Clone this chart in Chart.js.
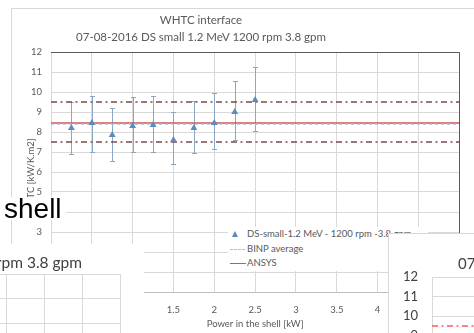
<!DOCTYPE html>
<html>
<head>
<meta charset="utf-8">
<script src="https://cdn.jsdelivr.net/npm/chart.js@4.4.1/dist/chart.umd.min.js"></script>
<style>
  html, body { margin: 0; padding: 0; background: #fff; }
  body { width: 474px; height: 333px; position: relative; overflow: hidden; font-family: Lato, "Open Sans", sans-serif; }
  .abs { position: absolute; }
  #frame { left: 11px; top: 8px; width: 600px; height: 500px; border: 1px solid #d9d9d9; }
  .ttl { color: #595959; font-size: 11.5px; white-space: nowrap; text-align: center; width: 300px; line-height: 14px; }
  #legend { left: 228px; top: 227px; width: 200px; height: 44px; background: #fff; font-size: 9.5px; color: #595959; }
  #legend .row { position: absolute; left: 0; height: 14px; line-height: 14px; width: 200px; white-space: nowrap; }
  #legend .txt { position: absolute; left: 19px; top: 0; }
  #shell { left: 0; top: 197px; width: 66px; height: 23px; line-height: 23px; background: #fff; font-family: "Liberation Sans", Arial, sans-serif; font-size: 28px; color: #000; padding-left: 4px; box-sizing: border-box; }
  #f2 { left: 0; top: 244px; width: 144px; height: 89px; background: #fff; overflow: hidden; }
  #f3 { left: 388px; top: 233px; width: 90px; height: 100px; background: #fff; overflow: hidden; border-left: 1px solid #d9d9d9; border-top: 1px solid #d9d9d9; }
  .ftitle { position: absolute; white-space: nowrap; color: #404040; }
</style>
</head>
<body>
<div id="frame" class="abs"></div>
<canvas id="main" class="abs" width="474" height="333" style="left:0;top:0;"></canvas>
<div class="abs ttl" style="left:51px;top:13px;">WHTC interface</div>
<div class="abs ttl" style="left:51px;top:30px;">07-08-2016 DS small 1.2 MeV 1200 rpm 3.8 gpm</div>
<div id="legend" class="abs"></div>
<div id="shell" class="abs">shell</div>
<div id="f2" class="abs">
  <canvas id="c2" class="abs" width="410" height="320" style="left:-280px;top:10px;"></canvas>
  <div class="ftitle" style="right:62px;top:9px;font-size:15.5px;line-height:18px;">07-08-2016 DS small 1.2 MeV 1200 rpm 3.8 gpm</div>
</div>
<div id="f3" class="abs">
  <canvas id="c3" class="abs" width="1000" height="300" style="left:0;top:0;"></canvas>
  <div class="ftitle" style="left:69px;top:20px;font-size:15px;line-height:18px;">07-08-2016 DS small 1.2 MeV 1200 rpm 3.8 gpm</div>
</div>
<script>
// measured series (power in the shell, kW) and HTC values with error limits
var powerKW = [0.25, 0.5, 0.75, 1, 1.25, 1.5, 1.75, 2, 2.25, 2.5];
var htc     = [8.2, 8.45, 7.85, 8.3, 8.35, 7.6, 8.2, 8.45, 9.0, 9.6];
var htcHigh = [9.5, 9.8, 9.2, 9.75, 9.8, 9.0, 9.55, 9.95, 10.55, 11.25];
var htcLow  = [6.9, 7.0, 6.55, 7.0, 7.0, 6.4, 6.95, 7.15, 7.6, 8.05];

// reference lines
var refSpan = [0, 5];
var ansysHtc = 8.45;
var binpAverage = 8.4;
var binpBand = [9.5, 7.5];

var seriesNames = ['DS-small-1.2 MeV - 1200 rpm -3.8 gpm', 'BINP average', 'ANSYS'];
var xRange = [0, 5], xStep = 0.5;
var yRange = [0, 12], yStep = 1;

var pointColor = '#5b8cc0';
var errColor = '#8ba7c6';
var binpColor = '#9dc3e6';
var ansysColor = '#cc5555';

// error bars, drawn through the chart's own scales
var errorBars = {
    id: 'errorBars',
    beforeDatasetsDraw: function (chart) {
        var ctx = chart.ctx, x = chart.scales.x, y = chart.scales.y, a = chart.chartArea;
        ctx.save();
        ctx.beginPath();
        ctx.rect(a.left, a.top, a.right - a.left, a.bottom - a.top);
        ctx.clip();
        ctx.strokeStyle = errColor;
        ctx.lineWidth = 1;
        powerKW.forEach(function (p, i) {
            var px = Math.round(x.getPixelForValue(p)) + 0.5;
            var top = Math.round(y.getPixelForValue(htcHigh[i])) + 0.5;
            var bot = Math.round(y.getPixelForValue(htcLow[i])) + 0.5;
            ctx.beginPath();
            ctx.moveTo(px, top); ctx.lineTo(px, bot);
            ctx.moveTo(px - 2.5, top); ctx.lineTo(px + 2.5, top);
            ctx.moveTo(px - 2.5, bot); ctx.lineTo(px + 2.5, bot);
            ctx.stroke();
        });
        ctx.restore();
    }
};

// top/right border of the plot area
var plotFrame = {
    id: 'plotFrame',
    afterDatasetsDraw: function (chart, args, opts) {
        var ctx = chart.ctx, a = chart.chartArea;
        ctx.save();
        ctx.strokeStyle = opts.color || '#595959';
        ctx.lineWidth = 1;
        ctx.beginPath();
        ctx.moveTo(a.left, Math.round(a.top) + 0.5);
        ctx.lineTo(Math.round(a.right) + 0.5, Math.round(a.top) + 0.5);
        ctx.lineTo(Math.round(a.right) + 0.5, a.bottom);
        ctx.stroke();
        ctx.restore();
    }
};

function buildChart(canvasId, o) {
    var flat = function (v) { return refSpan.map(function (x) { return { x: x, y: v }; }); };
    var datasets = [
        {
            label: seriesNames[0],
            data: powerKW.map(function (p, i) { return { x: p, y: htc[i] }; }),
            pointStyle: 'triangle',
            pointRadius: o.pointRadius,
            backgroundColor: pointColor,
            borderColor: pointColor,
            borderWidth: 0,
            showLine: false
        },
        {
            label: seriesNames[1], data: flat(binpAverage), showLine: true,
            borderColor: binpColor, borderDash: [3, 3], borderWidth: 1.25, pointRadius: 0
        },
        {
            label: seriesNames[2], data: flat(ansysHtc), showLine: true,
            borderColor: ansysColor, borderWidth: 1.5, pointRadius: 0
        }
    ];
    binpBand.forEach(function (v) {
        datasets.push({
            label: '', data: flat(v), showLine: true,
            borderColor: o.bandColor, borderDash: [6, 3.5, 2, 3.5], borderWidth: 1.3, pointRadius: 0
        });
    });

    var tickFont = { family: 'Lato', size: o.tickSize };
    var config = {
        type: 'scatter',
        data: { datasets: datasets },
        options: {
            responsive: false,
            animation: false,
            events: [],
            layout: { padding: o.pad },
            plugins: {
                legend: { display: false },
                title: { display: false },
                tooltip: { enabled: false },
                plotFrame: { color: o.frameColor }
            },
            scales: {
                x: {
                    type: 'linear', min: xRange[0], max: xRange[1],
                    ticks: {
                        display: o.xTicks, stepSize: xStep, autoSkip: false, maxRotation: 0,
                        color: '#595959', font: tickFont, padding: 12,
                        callback: function (v) { return String(v); }
                    },
                    grid: { color: '#d9d9d9', drawTicks: false },
                    border: { color: o.xBorder },
                    title: {
                        display: !!o.xTitle, text: o.xTitle, color: '#595959',
                        font: tickFont, padding: { top: 2, bottom: 3 }
                    },
                    afterFit: function (s) { s.height = o.xHeight; }
                },
                y: {
                    min: yRange[0], max: yRange[1],
                    ticks: {
                        display: o.yTicks, stepSize: yStep, color: o.yTickColor,
                        font: { family: 'Lato', size: o.yTickSize }, padding: o.yTickPad
                    },
                    grid: { color: '#d9d9d9', drawTicks: false },
                    border: { color: '#d9d9d9' },
                    title: {
                        display: !!o.yTitle, text: o.yTitle, color: '#595959',
                        font: tickFont, padding: { top: 5, bottom: 2 }
                    },
                    afterFit: function (s) { s.width = o.yWidth; }
                }
            }
        },
        plugins: [errorBars, plotFrame]
    };
    return new Chart(document.getElementById(canvasId), config);
}

// main chart
buildChart('main', {
    pad: { left: 20, right: 5, top: 52, bottom: 0 },
    yWidth: 31, xHeight: 41, xTicks: true, yTicks: true,
    tickSize: 9.5, yTickSize: 9.5, yTickPad: 9, yTickColor: '#595959',
    xTitle: 'Power in the shell [kW]', yTitle: 'HTC [kW/K.m2]',
    xBorder: '#bfbfbf', frameColor: '#595959', bandColor: '#7a4a4a', pointRadius: 4
});

// pasted fragment, bottom left
buildChart('c2', {
    pad: { left: 20, right: 10, top: 20, bottom: 0 },
    yWidth: 0, xHeight: 0, xTicks: false, yTicks: false,
    tickSize: 12, yTickSize: 12, yTickPad: 0, yTickColor: '#404040',
    xBorder: '#d9d9d9', frameColor: '#d9d9d9', bandColor: '#ff5a5a', pointRadius: 5
});

// pasted fragment, bottom right
buildChart('c3', {
    pad: { left: 0, right: 57, top: 43, bottom: 17 },
    yWidth: 43, xHeight: 0, xTicks: false, yTicks: true,
    tickSize: 13, yTickSize: 13, yTickPad: 14, yTickColor: '#404040',
    xBorder: '#d9d9d9', frameColor: '#d9d9d9', bandColor: '#ff5a5a', pointRadius: 5
});

// legend for the main chart
var legend = document.getElementById('legend');
var rows = [
    '<span class="abs" style="left:4px;top:4px;width:0;height:0;border-left:3.5px solid transparent;border-right:3.5px solid transparent;border-bottom:6px solid ' + pointColor + ';"></span>',
    '<span class="abs" style="left:2px;top:7px;width:15px;border-top:1.5px dashed ' + binpColor + ';"></span>',
    '<span class="abs" style="left:2px;top:7px;width:16px;border-top:1.5px solid ' + ansysColor + ';"></span>'
];
seriesNames.forEach(function (name, i) {
    var row = document.createElement('div');
    row.className = 'row';
    row.style.top = (i * 14.5) + 'px';
    row.innerHTML = rows[i] + '<span class="txt"></span>';
    row.querySelector('.txt').textContent = name;
    legend.appendChild(row);
});
</script>
</body>
</html>
